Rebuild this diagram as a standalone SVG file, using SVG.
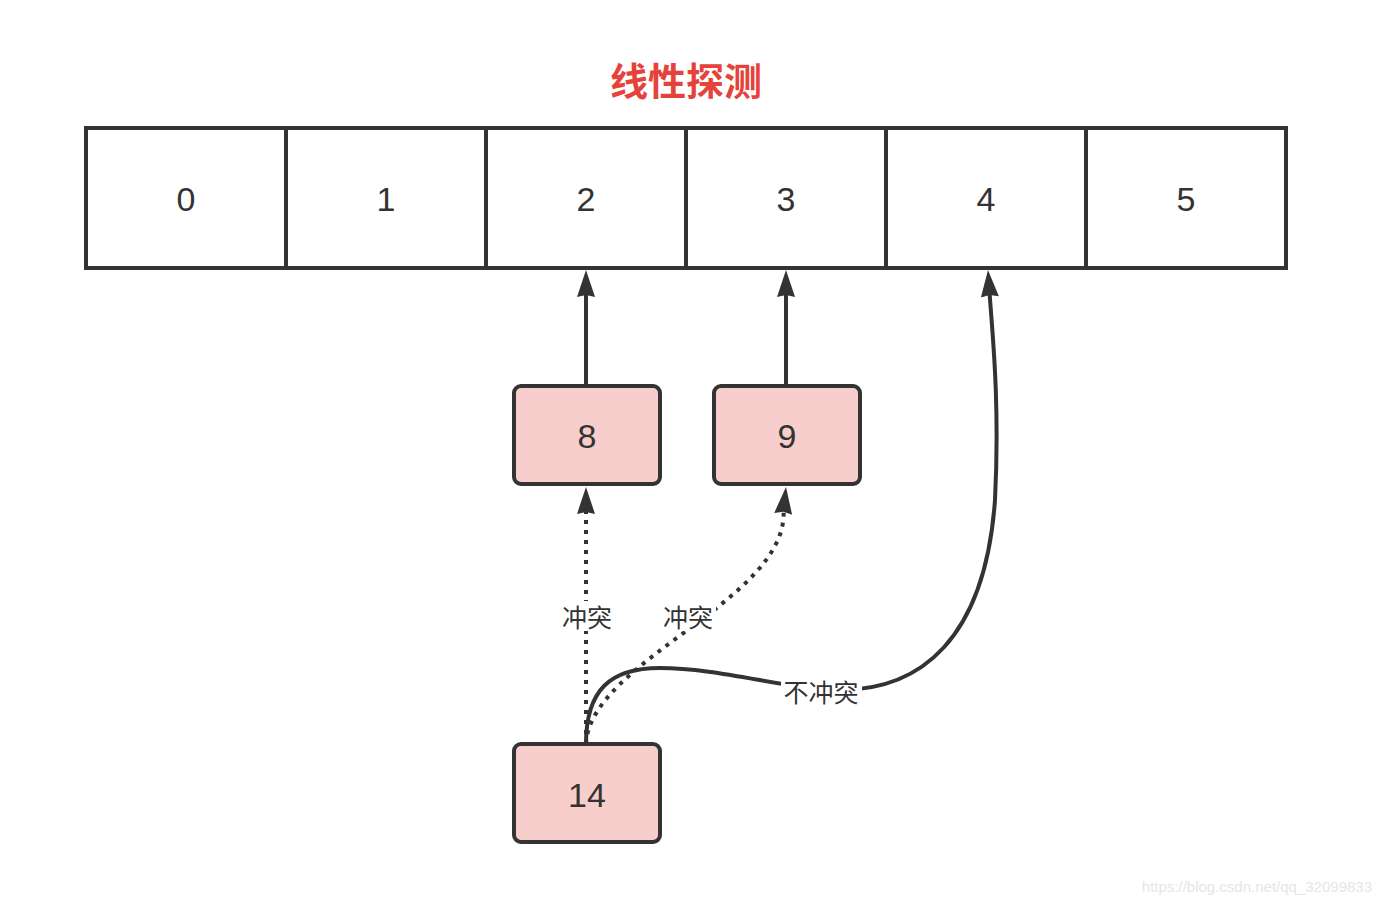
<svg xmlns="http://www.w3.org/2000/svg" width="1382" height="910" viewBox="0 0 1382 910">
<style>
.cell{fill:#ffffff;stroke:#333333;stroke-width:4}
.box{fill:#f8cecc;stroke:#333333;stroke-width:4}
.num{font-family:"Liberation Sans","Noto Sans CJK SC",sans-serif;font-size:34px;fill:#333333;text-anchor:middle;dominant-baseline:central}
.lbl{font-family:"Noto Sans CJK SC","Liberation Sans",sans-serif;font-size:25px;fill:#333333;text-anchor:middle;dominant-baseline:central}
.bg{fill:#ffffff}
.edge{fill:none;stroke:#333333;stroke-width:4}
.dot{stroke-dasharray:4 6}
.head{fill:#333333}
</style>
<defs>
<path id="ah" d="M0 0 L9 27 L0 25 L-9 27 Z"/>
</defs>
<rect width="1382" height="910" fill="#ffffff"/>
<text x="686" y="78" font-family="'Noto Sans CJK SC','Liberation Sans',sans-serif" font-size="38" font-weight="bold" fill="#e5423c" text-anchor="middle" dominant-baseline="central">线性探测</text>
<g id="array">
<g id="cell0"><rect class="cell" x="86" y="128" width="200" height="140"/><text class="num" x="186" y="199">0</text></g>
<g id="cell1"><rect class="cell" x="286" y="128" width="200" height="140"/><text class="num" x="386" y="199">1</text></g>
<g id="cell2"><rect class="cell" x="486" y="128" width="200" height="140"/><text class="num" x="586" y="199">2</text></g>
<g id="cell3"><rect class="cell" x="686" y="128" width="200" height="140"/><text class="num" x="786" y="199">3</text></g>
<g id="cell4"><rect class="cell" x="886" y="128" width="200" height="140"/><text class="num" x="986" y="199">4</text></g>
<g id="cell5"><rect class="cell" x="1086" y="128" width="200" height="140"/><text class="num" x="1186" y="199">5</text></g>
</g>
<g id="connectors">
<path class="edge" d="M586 386 L586 290"/>
<use href="#ah" class="head" transform="translate(586 270)"/>
<path class="edge" d="M786 386 L786 290"/>
<use href="#ah" class="head" transform="translate(786 270)"/>
<path class="edge dot" d="M586 744 L586 508"/>
<use href="#ah" class="head" transform="translate(586 487)"/>
<path class="edge dot" d="M586 744 C590 660 790 600 783.5 509"/>
<use href="#ah" class="head" transform="translate(786 487) rotate(6)"/>
<path class="edge" d="M586 744 C586 690 610 668 660 668 C720 668 790 690 840 690 C920 690 985 640 995 500 C1000 400 992 330 989.5 292"/>
<use href="#ah" class="head" transform="translate(988 270) rotate(-4)"/>
<rect class="bg" x="559" y="601" width="56" height="30"/>
<text class="lbl" x="587" y="616">冲突</text>
<rect class="bg" x="660" y="601" width="56" height="30"/>
<text class="lbl" x="688" y="616">冲突</text>
<rect class="bg" x="781" y="676" width="81" height="30"/>
<text class="lbl" x="821" y="691">不冲突</text>
</g>
<g id="node8"><rect class="box" x="514" y="386" width="146" height="98" rx="7"/><text class="num" x="587" y="436">8</text></g>
<g id="node9"><rect class="box" x="714" y="386" width="146" height="98" rx="7"/><text class="num" x="787" y="436">9</text></g>
<g id="node14"><rect class="box" x="514" y="744" width="146" height="98" rx="7"/><text class="num" x="587" y="795">14</text></g>
<text x="1372" y="892" font-family="'Liberation Sans',sans-serif" font-size="15" fill="#e6e6e6" text-anchor="end">https://blog.csdn.net/qq_32099833</text>
</svg>
